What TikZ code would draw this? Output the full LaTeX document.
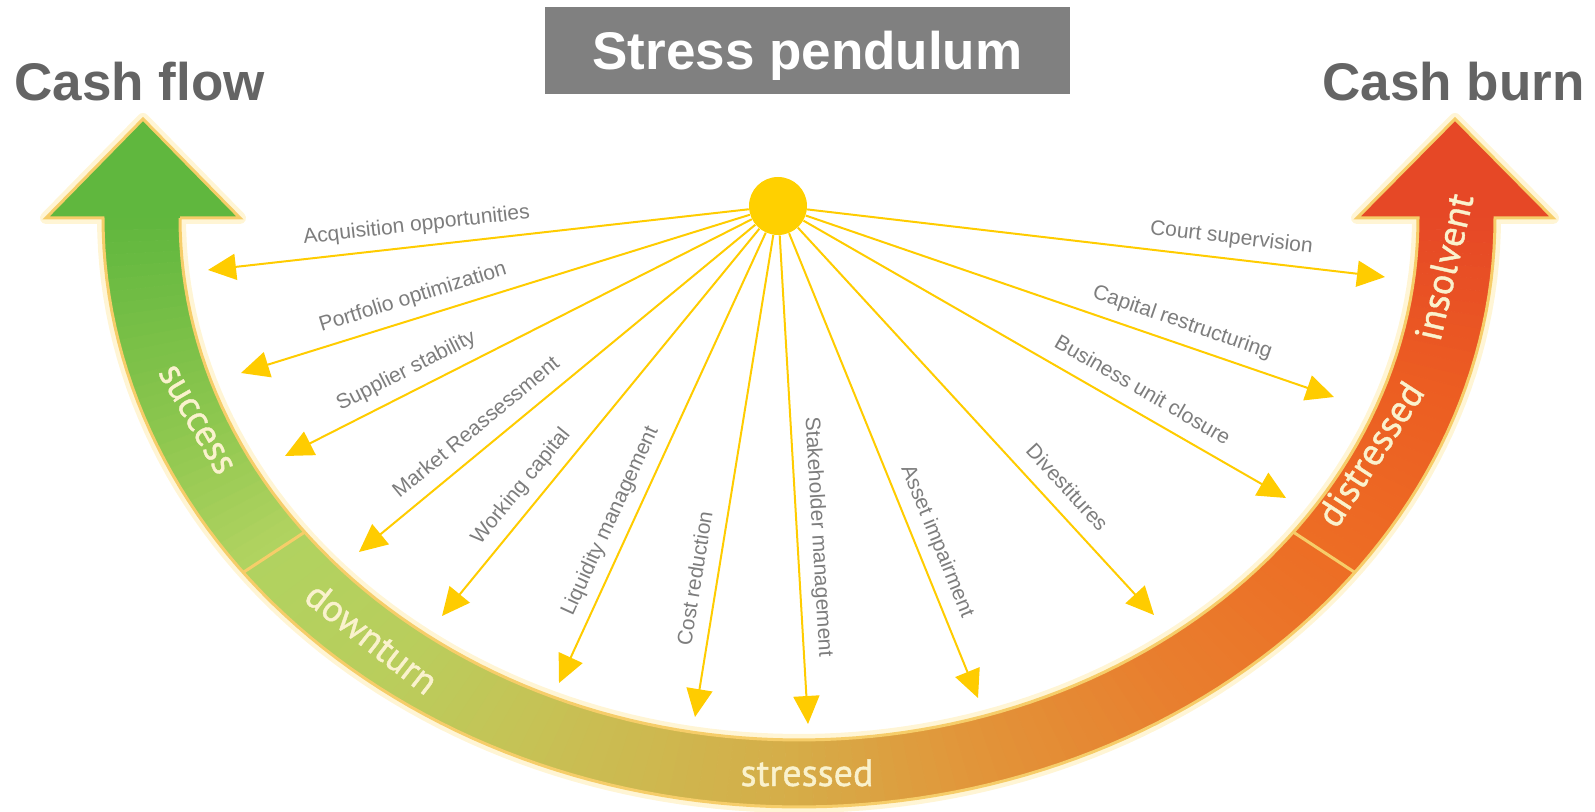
\documentclass[tikz,border=0pt]{standalone}
\usepackage{fontspec}
\setmainfont{Liberation Sans}
\newfontfamily\bandfont[FakeBold=1]{PT Sans}
\usetikzlibrary{arrows.meta}
\definecolor{g0}{RGB}{96,183,62}
\definecolor{g1}{RGB}{140,198,78}
\definecolor{g2}{RGB}{176,211,96}
\definecolor{g3}{RGB}{186,205,92}
\definecolor{g4}{RGB}{200,192,84}
\definecolor{g5}{RGB}{214,172,72}
\definecolor{g6}{RGB}{225,150,58}
\definecolor{g7}{RGB}{232,128,47}
\definecolor{g8}{RGB}{237,108,36}
\definecolor{g9}{RGB}{236,94,34}
\definecolor{g10}{RGB}{230,72,38}
\definecolor{bordercol}{RGB}{246,205,105}
\definecolor{glowcol}{RGB}{255,238,185}
\definecolor{rayyellow}{RGB}{255,204,0}
\definecolor{sunyellow}{RGB}{255,208,0}
\definecolor{labgray}{RGB}{125,125,125}
\definecolor{headgray}{RGB}{100,100,100}
\definecolor{titlegray}{RGB}{128,128,128}
\definecolor{cream}{RGB}{250,242,205}
\begin{document}
\begin{tikzpicture}[x=0.5pt,y=-0.5pt,
  ray/.style={draw=rayyellow, line width=1pt, -{Triangle[length=14pt,width=13pt]}},
  lab/.style={font=\fontsize{10.5}{12}\selectfont, text=labgray, sloped, above=1.5pt, text depth=2.3pt, text height=7.6pt},
  bandlab/.style={font=\bandfont\fontsize{19}{22}\selectfont, text=cream, inner sep=0pt},
  heading/.style={font=\fontsize{26.5}{30}\selectfont\bfseries, text=headgray, inner sep=0pt}]
\useasboundingbox (0,0) rectangle (1595,812);
\def\outline{(180,218) -- (240,218) -- (143,119) -- (46,218) -- (103,218) -- plot[domain=180:0, samples=120] ({799+696*cos(\x)},{218+589*sin(\x)}) -- (1553,218) -- (1455,119) -- (1357,218) -- (1418,218) -- plot[domain=0:180, samples=120] ({799+619*cos(\x)},{218+522*sin(\x)}) -- cycle}
% glow
\draw[glowcol, line width=6pt, opacity=0.6, line join=round] \outline;
% gradient band
\foreach \sa/\sb/\ca/\cb in {0/0.12/g0/g1, 0.12/0.2/g1/g2, 0.2/0.3/g2/g3, 0.3/0.38/g3/g4, 0.38/0.5/g4/g5, 0.5/0.58/g5/g6, 0.58/0.68/g6/g7, 0.68/0.8/g7/g8, 0.8/0.9/g8/g9, 0.9/1/g9/g10}{
  \pgfmathtruncatemacro\n{max(1,round((\sb-\sa)*150))}
  \foreach \j in {1,...,\n}{
    \pgfmathsetmacro\ta{180-180*(\sa+(\j-1)*(\sb-\sa)/\n)}
    \pgfmathsetmacro\tb{180-180*(\sa+\j*(\sb-\sa)/\n)}
    \pgfmathtruncatemacro\p{round(100*(\j-0.5)/\n)}
    \filldraw[line width=0.4pt, color=\cb!\p!\ca] ({799+696*cos(\ta)},{218+589*sin(\ta)}) -- ({799+696*cos(\tb)},{218+589*sin(\tb)}) -- ({799+619*cos(\tb)},{218+522*sin(\tb)}) -- ({799+619*cos(\ta)},{218+522*sin(\ta)}) -- cycle;
  }
}
% arrow heads
\fill[g0] (46,218) -- (143,119) -- (240,218) -- cycle;
\fill[g10] (1357,218) -- (1455,119) -- (1553,218) -- cycle;
% dividers
\draw[bordercol, line width=1.5pt] ({799+696*cos(143)},{218+589*sin(143)}) -- ({799+619*cos(143)},{218+522*sin(143)});
\draw[bordercol, line width=1.5pt] ({799+696*cos(37)},{218+589*sin(37)}) -- ({799+619*cos(37)},{218+522*sin(37)});
% border
\draw[bordercol, line width=1.5pt, line join=miter] \outline;
% band labels
\node[bandlab, rotate=-60] (success) at (196,420) {success};
\node[bandlab, rotate=-38] (downturn) at (372,638) {downturn};
\node[bandlab, anchor=base] (stressed) at (807,786) {stressed};
\node[bandlab, rotate=57] (distressed) at (1370,454) {distressed};
\node[bandlab, rotate=77] (insolvent) at (1444,267) {insolvent};
% sun and rays
\node[circle, fill=sunyellow, minimum size=29pt, inner sep=0pt] (sun) at (778,206) {};
\coordinate (t1) at (208,270);
\coordinate (t2) at (241,373);
\coordinate (t3) at (285,456);
\coordinate (t4) at (359,552);
\coordinate (t5) at (442,616);
\coordinate (t6) at (559,683);
\coordinate (t7) at (695,717);
\coordinate (t8) at (808,724);
\coordinate (t9) at (978,698);
\coordinate (t10) at (1154,615);
\coordinate (t11) at (1286,498);
\coordinate (t12) at (1334,397);
\coordinate (t13) at (1385,277);
\draw[ray] (sun) -- (t1) node[lab, pos=0.61] {Acquisition opportunities};
\draw[ray] (sun) -- (t2) node[lab, pos=0.65] {Portfolio optimization};
\draw[ray] (sun) -- (t3) node[lab, pos=0.72] {Supplier stability};
\draw[ray] (sun) -- (t4) node[lab, pos=0.67] {Market Reassessment};
\draw[ray] (sun) -- (t5) node[lab, pos=0.70] {Working capital};
\draw[ray] (sun) -- (t6) node[lab, pos=0.66] {Liquidity management};
\draw[ray] (sun) -- (t7) node[lab, pos=0.72] {Cost reduction};
\draw[ray] (sun) -- (t8) node[lab, pos=0.62] {Stakeholder management};
\draw[ray] (sun) -- (t9) node[lab, pos=0.68] {Asset impairment};
\draw[ray] (sun) -- (t10) node[lab, pos=0.71] {Divestitures};
\draw[ray] (sun) -- (t11) node[lab, pos=0.68] {Business unit closure};
\draw[ray] (sun) -- (t12) node[lab, pos=0.70] {Capital restructuring};
\draw[ray] (sun) -- (t13) node[lab, pos=0.73] {Court supervision};
% title and headings
\node[fill=titlegray, minimum width=262.5pt, minimum height=43.5pt, text height=19pt, text depth=0pt, inner sep=0pt, font=\fontsize{26.5}{30}\selectfont\bfseries, text=white] (title) at (807.5,50.5) {Stress pendulum};
\node[heading, anchor=base west] (cashflow) at (14,101) {Cash flow};
\node[heading, anchor=base east] (cashburn) at (1585,101) {Cash burn};
\end{tikzpicture}
\end{document}
